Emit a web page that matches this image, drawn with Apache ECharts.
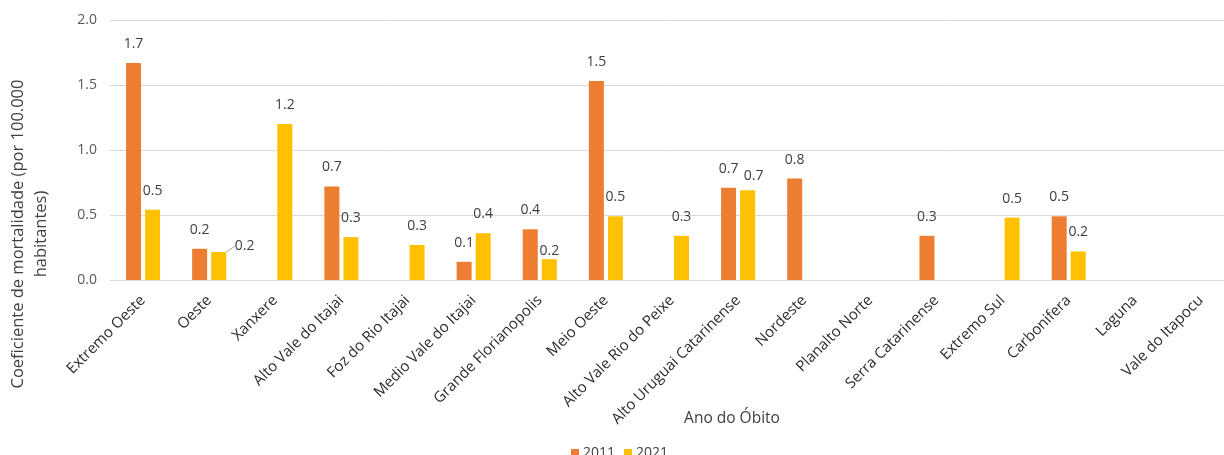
<!DOCTYPE html>
<html>
<head>
<meta charset="utf-8">
<script src="https://cdn.jsdelivr.net/npm/echarts@6/dist/echarts.min.js"></script>
<style>
  html, body { margin: 0; padding: 0; background: #ffffff; }
  #chart { width: 1224px; height: 455px; }
</style>
</head>
<body>
<div id="chart"></div>
<script>
// Regions of Santa Catarina
const regions = [
  'Extremo Oeste', 'Oeste', 'Xanxere', 'Alto Vale do Itajai', 'Foz do Rio Itajai',
  'Medio Vale do Itajai', 'Grande Florianopolis', 'Meio Oeste', 'Alto Vale Rio do Peixe',
  'Alto Uruguai Catarinense', 'Nordeste', 'Planalto Norte', 'Serra Catarinense',
  'Extremo Sul', 'Carbonifera', 'Laguna', 'Vale do Itapocu'
];

// Mortality rate per 100,000 inhabitants (null = no deaths recorded)
const rate2011 = [1.67, 0.24, null, 0.72, null, 0.14, 0.39, 1.53, null, 0.71, 0.78, null, 0.34, null, 0.49, null, null];
const rate2021 = [0.54, 0.215, 1.20, 0.33, 0.27, 0.36, 0.16, 0.49, 0.34, 0.69, null, null, null, 0.48, 0.22, null, null];

const yTicks = { min: 0, max: 2, interval: 0.5 };

const FONT = '"Open Sans", sans-serif';
const TEXT = '#404040';

const chart = echarts.init(document.getElementById('chart'), null, { renderer: 'canvas' });

const valueLabel = {
  show: true,
  position: 'top',
  distance: 12,
  fontFamily: FONT,
  fontSize: 14,
  color: TEXT,
  formatter: p => (p.value == null ? '' : Number(p.value).toFixed(1))
};

// 2021 bars: a few labels are nudged to avoid crowding
const data2021 = rate2021.map((v, i) => {
  if (i === 1) {
    return { value: v, labelLine: { show: true, lineStyle: { color: '#A6A6A6', width: 1 } } };
  }
  return v;
});

chart.setOption({
  animation: false,
  backgroundColor: '#ffffff',
  textStyle: { fontFamily: FONT },
  grid: { left: 110, right: -10, top: 20, bottom: 175, containLabel: false, outerBoundsMode: 'none' },
  legend: {
    data: ['2011', '2021'],
    left: 566,
    top: 441,
    itemWidth: 8,
    itemHeight: 8,
    itemGap: 9,
    icon: 'rect',
    textStyle: { fontFamily: FONT, fontSize: 14, color: TEXT, padding: [0, 0, 0, -1] }
  },
  xAxis: {
    type: 'category',
    data: regions,
    name: 'Ano do Óbito',
    nameLocation: 'middle',
    nameGap: 131,
    nameMoveOverlap: false,
    nameTextStyle: { fontFamily: FONT, fontSize: 15.5, color: TEXT, padding: [0, 0, 0, 120] },
    axisLine: { show: true, lineStyle: { color: '#D9D9D9', width: 1 } },
    axisTick: { show: false },
    axisLabel: {
      interval: 0,
      rotate: 45,
      margin: 18,
      fontFamily: FONT,
      fontSize: 15,
      color: '#2b2b2b'
    }
  },
  yAxis: {
    type: 'value',
    min: yTicks.min,
    max: yTicks.max,
    interval: yTicks.interval,
    name: 'Coeficiente de mortalidade (por 100.000\nhabitantes)',
    nameLocation: 'middle',
    nameGap: 57,
    nameRotate: 90,
    nameMoveOverlap: false,
    nameTextStyle: {
      fontFamily: FONT, fontSize: 16.5, color: TEXT, lineHeight: 23,
      align: 'center', padding: [0, 168, 0, 0]
    },
    axisLine: { show: false },
    axisTick: { show: false },
    axisLabel: {
      margin: 13,
      fontFamily: FONT,
      fontSize: 14,
      color: '#595959',
      formatter: v => v.toFixed(1)
    },
    splitLine: { lineStyle: { color: '#D9D9D9', width: 1 } }
  },
  series: [
    {
      name: '2011',
      type: 'bar',
      data: rate2011,
      barWidth: 15,
      barGap: '27%',
      itemStyle: { color: '#ED7D31' },
      label: valueLabel
    },
    {
      name: '2021',
      type: 'bar',
      data: data2021,
      barWidth: 15,
      barGap: '27%',
      itemStyle: { color: '#FFC000' },
      label: valueLabel,
      labelLayout: p => {
        if (p.dataIndex === 1) return { dx: 26, dy: 13 };
        if (p.dataIndex === 6) return { dy: 11 };
        if (p.dataIndex === 9) return { dx: 6, dy: 5 };
        return {};
      }
    }
  ]
});
</script>
</body>
</html>
